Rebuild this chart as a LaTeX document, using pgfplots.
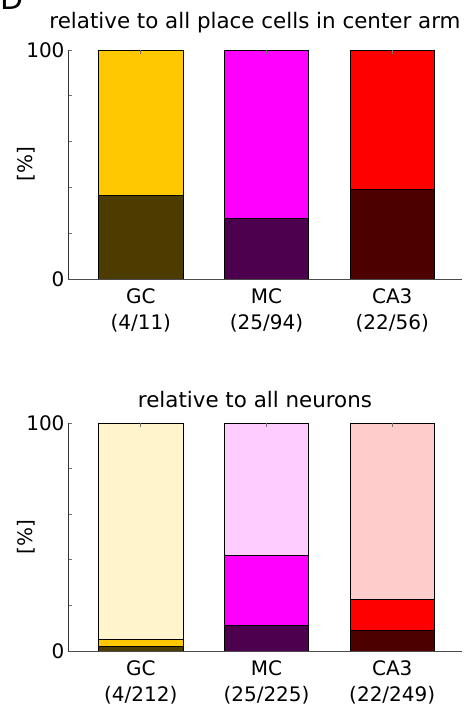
\documentclass[border=0pt]{standalone}
\usepackage{pgfplots}
\pgfplotsset{compat=1.18}
\usepackage{fontspec}
\setmainfont{DejaVu Sans}
\definecolor{cy}{HTML}{FFC800}
\definecolor{cyd}{HTML}{4D3C00}
\definecolor{cyl}{HTML}{FFF4CC}
\definecolor{cm}{HTML}{FF00FF}
\definecolor{cmd}{HTML}{4D004D}
\definecolor{cml}{HTML}{FFCCFF}
\definecolor{cr}{HTML}{FF0000}
\definecolor{crd}{HTML}{4D0000}
\definecolor{crl}{HTML}{FFCCCC}
\pgfplotsset{
  myax/.style={
    scale only axis, width=394pt,
    xmin=0.421, xmax=3.555, ymin=0, ymax=100,
    axis line style={draw=none}, axis on top,
    ytick={0,20,40,60,80,100}, yticklabels={0,,,,,100}, ytick pos=left,
    xtick={1,2,3}, xtick pos=right, xticklabel pos=left,
    tick align=inside, major tick length=4pt,
    tick style={black!55, line width=0.6pt},
    font=\fontsize{20}{26}\selectfont,
    /pgf/number format/assume math mode=true,
    xticklabel style={align=center, font=\fontsize{20}{26}\selectfont, inner sep=2pt, yshift=-7pt},
    yticklabel style={font=\fontsize{20}{24}\selectfont},
    ylabel={[\%]},
    every axis y label/.style={at={(axis description cs:-0.107,0.5)}, rotate=90, anchor=center, font=\fontsize{20}{24}\selectfont},
    every axis title/.style={anchor=base, font=\fontsize{21.4}{25}\selectfont},
    after end axis/.code={
      \draw[black!80, line width=0.8pt] (rel axis cs:0,0) -- (rel axis cs:0,1);
      \draw[black!70, line width=0.8pt] (rel axis cs:0,0) -- (rel axis cs:1,0);
    },
  },
  bb/.style={ybar, bar width=0.67, bar shift=0pt, draw=black, line width=0.8pt, forget plot},
}
\begin{document}
\begin{tikzpicture}
\useasboundingbox (0,0) rectangle (467pt,707pt);
\node[anchor=base west, inner sep=0pt, font=\fontsize{30}{30}\selectfont] at (0pt,697.5pt) {D};
% top axis
\begin{axis}[myax, at={(68pt,428pt)}, anchor=south west, height=229pt,
  title={relative to all place cells in center arm},
  title style={at={(axis description cs:0.4746,1.095)}},
  xticklabels={{GC\\(4/11)},{MC\\(25/94)},{CA3\\(22/56)}}]
\addplot[bb, fill=cy] coordinates {(1,100)};
\addplot[bb, fill=cyd] coordinates {(1,36.36)};
\addplot[bb, fill=cm] coordinates {(2,100)};
\addplot[bb, fill=cmd] coordinates {(2,26.60)};
\addplot[bb, fill=cr] coordinates {(3,100)};
\addplot[bb, fill=crd] coordinates {(3,39.29)};
\end{axis}
% bottom axis
\begin{axis}[myax, at={(68pt,56pt)}, anchor=south west, height=228pt,
  title={relative to all neurons},
  title style={at={(axis description cs:0.4746,1.068)}},
  xticklabels={{GC\\(4/212)},{MC\\(25/225)},{CA3\\(22/249)}}]
\addplot[bb, fill=cyl] coordinates {(1,100)};
\addplot[bb, fill=cy] coordinates {(1,5.19)};
\addplot[bb, fill=cyd] coordinates {(1,1.89)};
\addplot[bb, fill=cml] coordinates {(2,100)};
\addplot[bb, fill=cm] coordinates {(2,41.78)};
\addplot[bb, fill=cmd] coordinates {(2,11.11)};
\addplot[bb, fill=crl] coordinates {(3,100)};
\addplot[bb, fill=cr] coordinates {(3,22.49)};
\addplot[bb, fill=crd] coordinates {(3,8.84)};
\end{axis}
\end{tikzpicture}
\end{document}
